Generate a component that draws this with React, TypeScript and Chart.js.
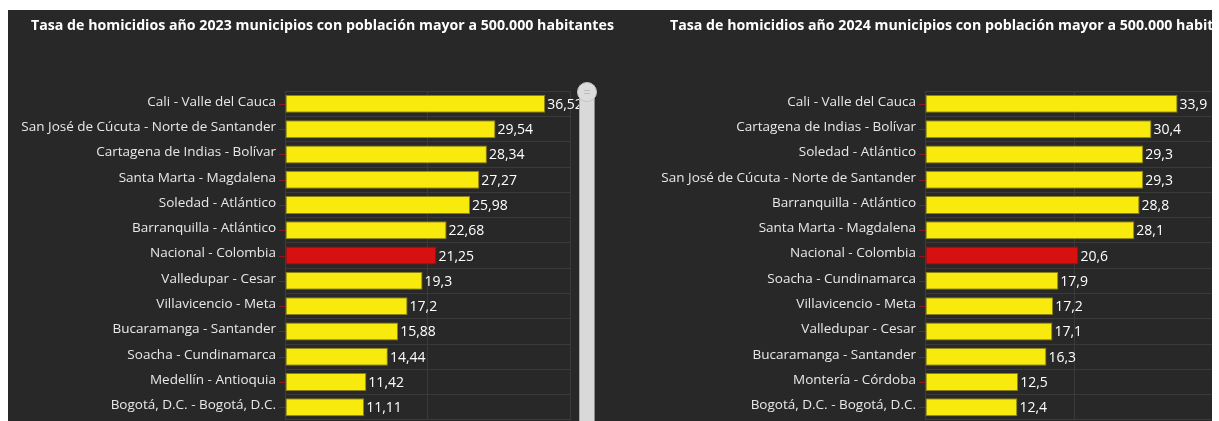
import React, { useEffect, useRef } from "react";
import { Chart, registerables } from "chart.js";

Chart.register(...registerables);

const title2023 = "Tasa de homicidios año 2023 municipios con población mayor a 500.000 habitantes";
const title2024 = "Tasa de homicidios año 2024 municipios con población mayor a 500.000 habitantes";

const labels2023 = [
  "Cali - Valle del Cauca",
  "San José de Cúcuta - Norte de Santander",
  "Cartagena de Indias - Bolívar",
  "Santa Marta - Magdalena",
  "Soledad - Atlántico",
  "Barranquilla - Atlántico",
  "Nacional - Colombia",
  "Valledupar - Cesar",
  "Villavicencio - Meta",
  "Bucaramanga - Santander",
  "Soacha - Cundinamarca",
  "Medellín - Antioquia",
  "Bogotá, D.C. - Bogotá, D.C.",
];
const values2023 = [36.52, 29.54, 28.34, 27.27, 25.98, 22.68, 21.25, 19.3, 17.2, 15.88, 14.44, 11.42, 11.11];

const labels2024 = [
  "Cali - Valle del Cauca",
  "Cartagena de Indias - Bolívar",
  "Soledad - Atlántico",
  "San José de Cúcuta - Norte de Santander",
  "Barranquilla - Atlántico",
  "Santa Marta - Magdalena",
  "Nacional - Colombia",
  "Soacha - Cundinamarca",
  "Villavicencio - Meta",
  "Valledupar - Cesar",
  "Bucaramanga - Santander",
  "Montería - Córdoba",
  "Bogotá, D.C. - Bogotá, D.C.",
];
const values2024 = [33.9, 30.4, 29.3, 29.3, 28.8, 28.1, 20.6, 17.9, 17.2, 17.1, 16.3, 12.5, 12.4];

const highlightLabel = "Nacional - Colombia";
const xMax = 40;
const xStep = 20;

const FONT = "'Open Sans', 'Noto Sans', sans-serif";
const BG = "#282828";
const GRID = "#3a3a3a";
const AXIS_RED = "#8e1b1b";
const YELLOW = "#f8ea0c";
const YELLOW_BORDER = "#8a7f10";
const RED = "#d6110f";
const RED_BORDER = "#8f0d0d";

const overlayPlugin = {
  id: "overlay",
  afterDatasetsDraw(chart: any) {
    const ctx = chart.ctx;
    const meta = chart.getDatasetMeta(0);
    const ds = chart.data.datasets[0];
    const y = chart.scales.y;
    const left = chart.chartArea.left;
    ctx.save();
    ctx.strokeStyle = AXIS_RED;
    ctx.lineWidth = 1;
    y.ticks.forEach((_t: any, i: number) => {
      const py = Math.round(y.getPixelForTick(i)) + 0.5;
      ctx.beginPath();
      ctx.moveTo(left - 6, py);
      ctx.lineTo(left, py);
      ctx.stroke();
    });
    ctx.fillStyle = "#ffffff";
    ctx.font = `14px ${FONT}`;
    ctx.textBaseline = "middle";
    ctx.textAlign = "left";
    meta.data.forEach((bar: any, i: number) => {
      const v = ds.data[i];
      ctx.fillText(String(v).replace(".", ","), bar.x + 2, bar.y + 1);
    });
    ctx.restore();
  },
};

function BarPanel(props: { labels: string[]; values: number[]; width: number; padRight: number; axisWidth: number }) {
  const ref = useRef<HTMLCanvasElement | null>(null);
  useEffect(() => {
    if (!ref.current) return;
    const { labels, values } = props;
    const chart = new Chart(ref.current, {
      type: "bar",
      data: {
        labels,
        datasets: [
          {
            data: values,
            backgroundColor: labels.map((l) => (l === highlightLabel ? RED : YELLOW)),
            borderColor: labels.map((l) => (l === highlightLabel ? RED_BORDER : YELLOW_BORDER)),
            borderWidth: 1,
            borderSkipped: false,
            barPercentage: 0.71,
            categoryPercentage: 1,
          },
        ],
      },
      options: {
        indexAxis: "y",
        responsive: false,
        animation: false,
        devicePixelRatio: 1,
        layout: { padding: { top: 81.25, bottom: 7.25, left: 0, right: props.padRight } },
        plugins: { legend: { display: false }, tooltip: { enabled: false }, title: { display: false } },
        scales: {
          x: {
            type: "linear",
            min: 0,
            max: xMax,
            ticks: { display: false, stepSize: xStep },
            grid: {
              drawTicks: false,
              color: (c: any) => (c.tick && c.tick.value === 0 ? "rgba(0,0,0,0)" : GRID),
            },
            border: { display: false },
          },
          y: {
            type: "category",
            grid: { color: GRID, tickLength: 7, tickColor: "rgba(0,0,0,0)", offset: true },
            border: { color: AXIS_RED, width: 1 },
            ticks: {
              color: "#e8e8e8",
              font: { family: FONT, size: 13.5 },
              padding: 2,
              autoSkip: false,
              labelOffset: -2,
            },
            afterFit: (s: any) => {
              s.width = props.axisWidth;
            },
          },
        },
      },
      plugins: [overlayPlugin],
    } as any);
    return () => chart.destroy();
  }, []);
  return <canvas ref={ref} width={props.width} height={420} style={{ display: "block" }} />;
}

const titleStyle: React.CSSProperties = {
  position: "absolute",
  top: 6,
  fontFamily: FONT,
  fontWeight: 700,
  fontSize: 14.2,
  lineHeight: "17px",
  color: "#ffffff",
  whiteSpace: "nowrap",
  zIndex: 2,
};

export default function App() {
  return (
    <div
      style={{
        position: "fixed",
        left: 8,
        top: 10,
        width: 1204,
        height: 411,
        background: BG,
        overflow: "hidden",
      }}
    >
      <div style={{ position: "absolute", left: 0, top: 0 }}>
        <BarPanel labels={labels2023} values={values2023} width={590} padRight={28} axisWidth={277} />
      </div>
      <div style={{ position: "absolute", left: 639, top: 0 }}>
        <BarPanel labels={labels2024} values={values2024} width={600} padRight={24} axisWidth={278} />
      </div>
      <div style={{ ...titleStyle, left: 23 }}>{title2023}</div>
      <div style={{ ...titleStyle, left: 662 }}>{title2024}</div>
      {/* scrollbar */}
      <div
        style={{
          position: "absolute",
          left: 571,
          top: 82,
          width: 14,
          height: 340,
          background: "#d9d9d9",
          borderLeft: "1px solid #a8a8a8",
          borderRight: "1px solid #8c8c8c",
          zIndex: 3,
        }}
      />
      <div
        style={{
          position: "absolute",
          left: 569,
          top: 72,
          width: 18,
          height: 18,
          borderRadius: "50%",
          background: "#dcdcdc",
          border: "1px solid #c4c4c4",
          zIndex: 4,
        }}
      >
        <div style={{ position: "absolute", left: 6, top: 7, width: 6, height: 1, background: "#bdbdbd" }} />
        <div style={{ position: "absolute", left: 6, top: 10, width: 6, height: 1, background: "#bdbdbd" }} />
      </div>
    </div>
  );
}
